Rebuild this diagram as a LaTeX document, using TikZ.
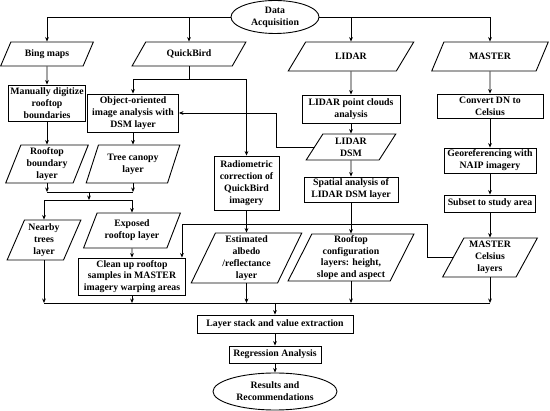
\documentclass[tikz,border=0pt]{standalone}
\usepackage{fontspec}
\setmainfont{Liberation Serif}
\usetikzlibrary{shapes.geometric,arrows.meta}
\begin{document}
\begin{tikzpicture}[x=1pt, y=-1pt,
    every node/.style={font=\fontsize{9.8}{11.8}\selectfont\bfseries, align=center, line width=0.9pt},
    procbox/.style={rectangle, draw, inner sep=0pt},
    databox/.style={trapezium, draw, inner sep=0pt, trapezium stretches=true,
        trapezium left angle=#1, trapezium right angle=180-#1},
    termbox/.style={ellipse, draw, inner sep=0pt},
    flow/.style={line width=0.85pt, -{Stealth[length=4.5pt, width=3.8pt]}},
    link/.style={line width=0.85pt}]
    \useasboundingbox (0,0) rectangle (550,411);
    % sources
    \node[termbox, minimum width=88pt, minimum height=33pt] (acq) at (275,17) {Data\\Acquisition};
    \node[databox=55, minimum width=93pt, minimum height=24pt] (bing) at (47,54) {Bing maps};
    \node[databox=50, minimum width=114pt, minimum height=24pt] (qb) at (189,54) {QuickBird};
    \node[databox=47, minimum width=126pt, minimum height=29pt] (lidar) at (351,56.5) {LIDAR};
    \node[databox=50, minimum width=117pt, minimum height=29pt] (master) at (490,56.5) {MASTER};
    % Bing maps / QuickBird column
    \node[procbox, minimum width=77pt, minimum height=36pt] (manual) at (47,103) {Manually digitize\\rooftop\\boundaries};
    \node[procbox, minimum width=91pt, minimum height=38pt] (obj) at (133,113) {Object-oriented\\image analysis with\\DSM layer};
    \node[databox=70, minimum width=83pt, minimum height=38pt] (rb) at (47,164) {Rooftop\\boundary\\layer};
    \node[databox=66, minimum width=94pt, minimum height=38pt] (tc) at (133,164) {Tree canopy\\layer};
    \node[databox=67, minimum width=74pt, minimum height=40pt] (near) at (44,240) {Nearby\\trees\\layer};
    \node[databox=63, minimum width=97pt, minimum height=35pt] (exp) at (132,230.5) {Exposed\\rooftop layer};
    \node[procbox, minimum width=107pt, minimum height=37pt] (clean) at (132,276.5) {Clean up rooftop\\samples in MASTER\\imagery warping areas};
    \node[procbox, minimum width=65pt, minimum height=54pt] (rad) at (246.5,183) {Radiometric\\correction of\\QuickBird\\imagery};
    \node[databox=67, minimum width=111pt, minimum height=50pt] (est) at (246.5,258) {Estimated\\albedo\\/reflectance\\layer};
    % LIDAR column
    \node[procbox, minimum width=98pt, minimum height=28pt] (lpc) at (351,109) {LIDAR point clouds\\analysis};
    \node[databox=63, minimum width=90pt, minimum height=26pt] (dsm) at (351,147) {LIDAR\\DSM};
    \node[procbox, minimum width=94pt, minimum height=25pt] (spat) at (351,189.5) {Spatial analysis of\\LIDAR DSM layer};
    \node[databox=65, minimum width=126pt, minimum height=47pt] (rcfg) at (351,257.5) {Rooftop\\configuration\\layers: height,\\slope and aspect};
    % MASTER column
    \node[procbox, minimum width=106pt, minimum height=24pt] (conv) at (490,106) {Convert DN to\\Celsius};
    \node[procbox, minimum width=92pt, minimum height=25pt] (geo) at (490,160.5) {Georeferencing with\\NAIP imagery};
    \node[procbox, minimum width=91pt, minimum height=17pt] (sub) at (490,203.5) {Subset to study area};
    \node[databox=62, minimum width=95pt, minimum height=39pt] (mcel) at (490,257.5) {MASTER\\Celsius\\layers};
    % analysis
    \node[procbox, minimum width=156pt, minimum height=18pt] (stack) at (275,324) {Layer stack and value extraction};
    \node[procbox, minimum width=92pt, minimum height=17pt] (reg) at (275,354.5) {Regression Analysis};
    \node[termbox, minimum width=124pt, minimum height=37pt] (res) at (275,391.5) {Results and\\Recommendations};

    \coordinate (dsmbend) at (276,113);
    \coordinate (celbend) at (427,224);
    \coordinate (mergea) at (89,192);
    \coordinate (mergeb) at (89,200);
    \coordinate (mergec) at (275,303);

    \draw[flow] (acq.west) -| (bing.north);
    \draw[flow] (acq.west) -| (qb.north);
    \draw[flow] (acq.east) -| (lidar.north);
    \draw[flow] (acq.east) -| (master.north);
    \draw[flow] (bing) -- (manual);
    \draw[flow] (manual) -- (rb);
    \draw[link] (qb.south) -- ++(0,13) coordinate (qbsplit);
    \draw[flow] (qbsplit) -| (obj.north);
    \draw[flow] (qbsplit) -| (rad.north);
    \draw[flow] (obj) -- (tc);
    \draw[flow] (rad) -- (est);
    \draw[flow] (lidar) -- (lpc);
    \draw[flow] (lpc) -- (dsm);
    \draw[flow] (dsm) -- (spat);
    \draw[flow] (spat) -- (rcfg);
    \draw[flow] (dsm.west) -| (dsmbend) -- (obj.east);
    \draw[flow] (master) -- (conv);
    \draw[flow] (conv) -- (geo);
    \draw[flow] (geo) -- (sub);
    \draw[flow] (sub) -- (mcel);
    \draw[flow] (mcel.west) -| (celbend) -| ([xshift=-4pt]clean.north east);
    % rooftop and canopy layers
    \draw[flow] (rb.south) -- (rb.south |- mergea);
    \draw[flow] (tc.south) -- (tc.south |- mergea);
    \draw[link] (rb.south |- mergea) -- (tc.south |- mergea);
    \draw[flow] (mergea) -- (mergeb);
    \draw[flow] (mergeb) -| (near.north);
    \draw[flow] (mergeb) -| (exp.north);
    \draw[flow] (exp) -- (clean);
    % layer stack
    \foreach \n in {near, clean, est, rcfg, mcel}
        \draw[flow] (\n.south) -- (\n.south |- mergec);
    \draw[link] (near.south |- mergec) -- (mcel.south |- mergec);
    \draw[flow] (mergec) -- (stack);
    \draw[flow] (stack) -- (reg);
    \draw[flow] (reg) -- (res);
\end{tikzpicture}
\end{document}
